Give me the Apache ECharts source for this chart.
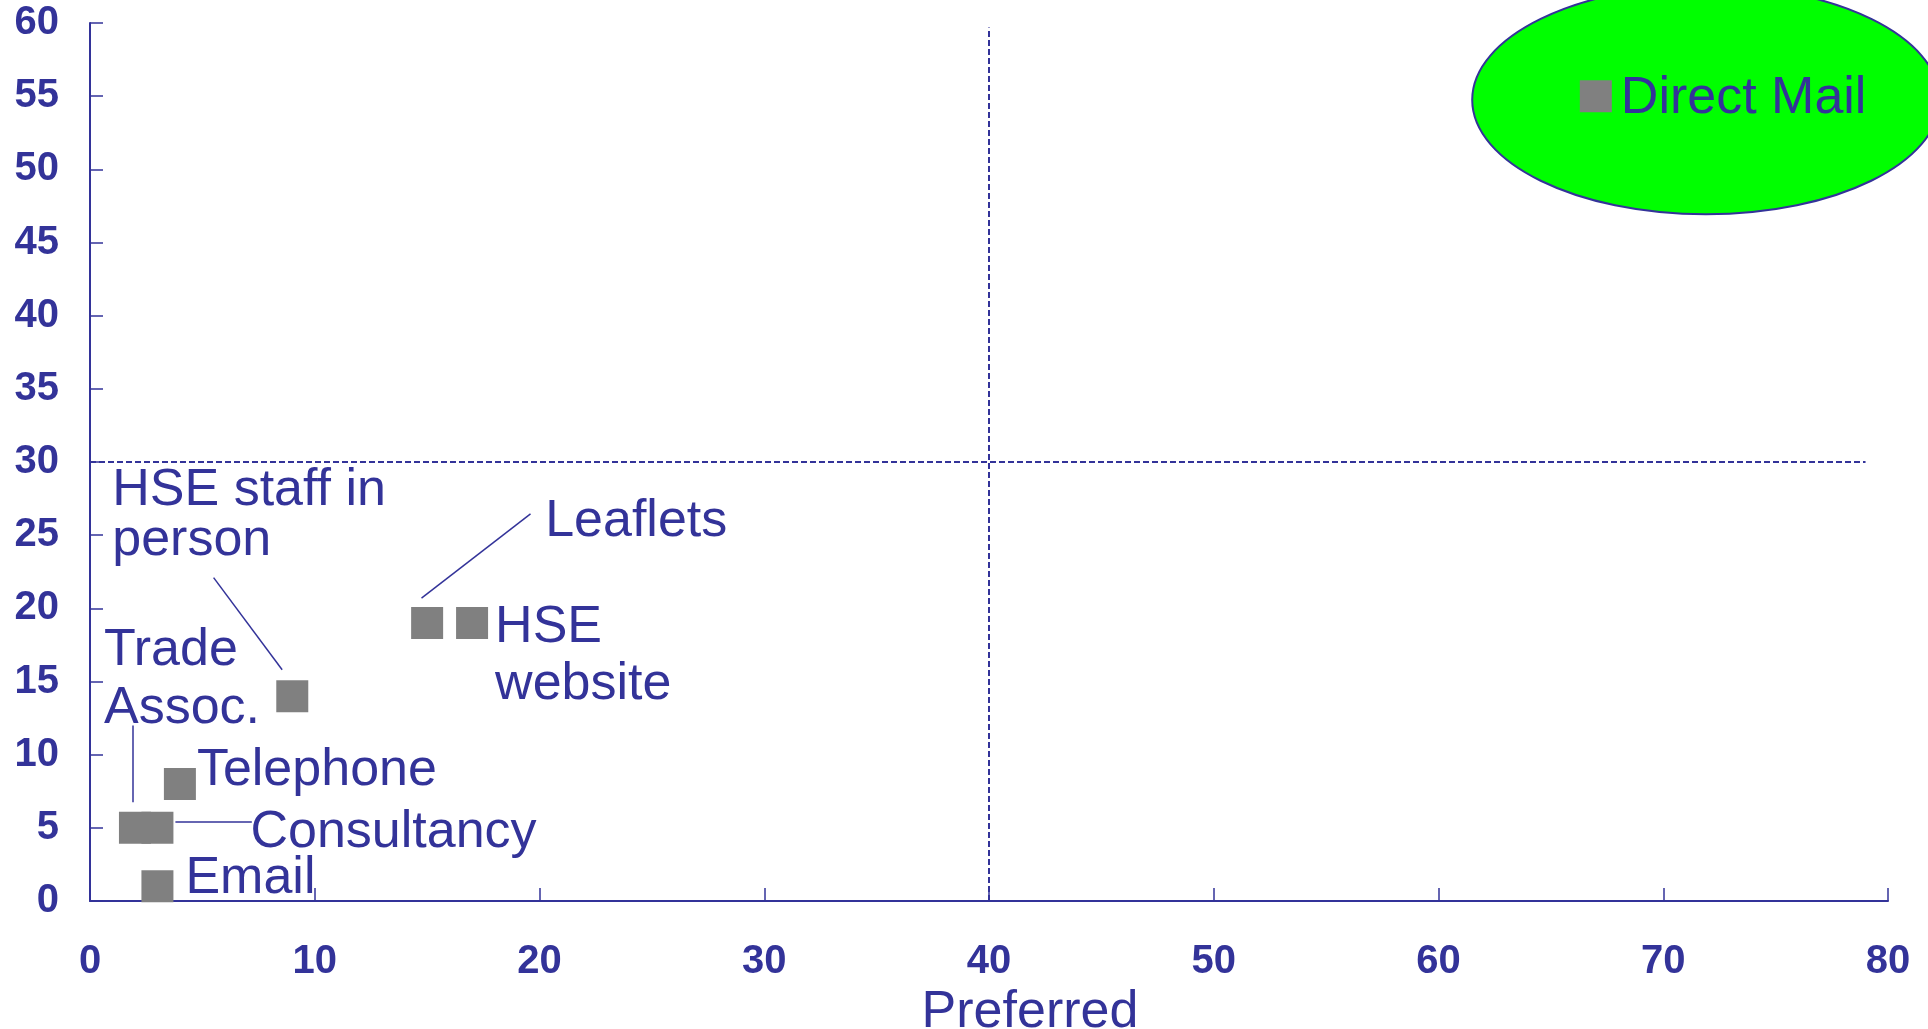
<!DOCTYPE html>
<html>
<head>
<meta charset="utf-8">
<title>Preferred</title>
<script src="https://cdn.jsdelivr.net/npm/echarts@6/dist/echarts.min.js"></script>
<style>
  html, body { margin: 0; padding: 0; background: #fff; }
  #chart { width: 1928px; height: 1029px; }
</style>
</head>
<body>
<div id="chart"></div>
<script>
// values
const names = ['Direct Mail', 'Leaflets', 'HSE\nwebsite', 'HSE staff in\nperson', 'Telephone', 'Trade\nAssoc.', 'Consultancy', 'Email']
const preferred = [67, 15, 17, 9, 4, 2, 3, 3]
const used = [55, 19, 19, 14, 8, 5, 5, 1]

const xTicks = [0, 80, 10]
const yTicks = [0, 60, 5]

// highlighted area round Direct Mail: centre x, centre y, radius x, radius y (data units)
const highlight = [71.9, 54.75, 10.4, 7.82]

// dashed quadrant lines
const hLine = [[0, 30], [79, 30]]
const vLine = [[40, 0], [40, 59.7]]

// leader lines from labels to points
const leaders = [
  [[5.5, 22.1], [8.55, 15.8]],
  [[14.75, 20.7], [19.6, 26.45]],
  [[1.91, 12.0], [1.91, 6.75]],
  [[3.8, 5.4], [7.2, 5.4]]
]

const blue = '#333399'
const font = "'Liberation Sans', Arial, sans-serif"

// label placement, pixels from the right edge of each square
const labelPos = {
  'Direct Mail': [9, 2],
  'Leaflets': [102, -101],
  'HSE\nwebsite': [7, 33, 57],
  'HSE staff in\nperson': [-196, -180, 50],
  'Telephone': [1, -13],
  'Trade\nAssoc.': [-47, -148, 58],
  'Consultancy': [77, 5],
  'Email': [12, -8]
}

const points = names.map(function (n, i) {
  const p = labelPos[n]
  return {
    name: n,
    value: [preferred[i], used[i]],
    label: { offset: [p[0], p[1]], lineHeight: p[2] || 52 }
  }
})

const chart = echarts.init(document.getElementById('chart'))

const axisCommon = {
  axisLine: { show: true, lineStyle: { color: blue, width: 2 } },
  axisTick: { show: true, inside: true, length: 13, lineStyle: { color: blue, width: 1.5 } },
  splitLine: { show: false },
  axisLabel: { color: blue, fontSize: 40, fontWeight: 'bold', fontFamily: font }
}

chart.setOption({
  backgroundColor: '#ffffff',
  animation: false,
  grid: { left: 90, right: 40, top: 23, bottom: 128, outerBoundsMode: 'none', containLabel: false },
  xAxis: Object.assign({}, axisCommon, {
    type: 'value',
    min: xTicks[0],
    max: xTicks[1],
    interval: xTicks[2],
    name: 'Preferred',
    nameLocation: 'middle',
    nameGap: 82,
    nameTextStyle: { color: blue, fontSize: 52, fontFamily: font, padding: [0, 0, 0, 82] },
    axisLabel: Object.assign({}, axisCommon.axisLabel, { margin: 41 })
  }),
  yAxis: Object.assign({}, axisCommon, {
    type: 'value',
    min: yTicks[0],
    max: yTicks[1],
    interval: yTicks[2],
    axisLabel: Object.assign({}, axisCommon.axisLabel, { margin: 31 })
  }),
  series: [
    {
      type: 'custom',
      clip: false,
      z: 1,
      silent: true,
      data: [highlight],
      renderItem: function (params, api) {
        const c = api.coord([api.value(0), api.value(1)])
        const s = api.size([api.value(2), api.value(3)])
        return {
          type: 'ellipse',
          shape: { cx: c[0], cy: c[1], rx: s[0], ry: s[1] },
          style: { fill: '#00ff00', stroke: blue, lineWidth: 2 }
        }
      }
    },
    {
      type: 'lines',
      coordinateSystem: 'cartesian2d',
      z: 2,
      silent: true,
      lineStyle: { color: blue, width: 1.5, opacity: 1 },
      data: leaders.map(function (l) { return { coords: l } })
    },
    {
      type: 'scatter',
      z: 3,
      symbol: 'rect',
      symbolSize: 32,
      itemStyle: { color: '#808080', opacity: 1 },
      label: {
        show: true,
        position: 'right',
        distance: 0,
        formatter: '{b}',
        color: blue,
        fontSize: 52,
        fontFamily: font
      },
      markLine: {
        silent: true,
        symbol: 'none',
        label: { show: false },
        lineStyle: { color: blue, width: 2, type: [6, 3] },
        data: [
          [{ coord: hLine[0] }, { coord: hLine[1] }],
          [{ coord: vLine[0] }, { coord: vLine[1] }]
        ]
      },
      data: points
    }
  ]
})
</script>
</body>
</html>
